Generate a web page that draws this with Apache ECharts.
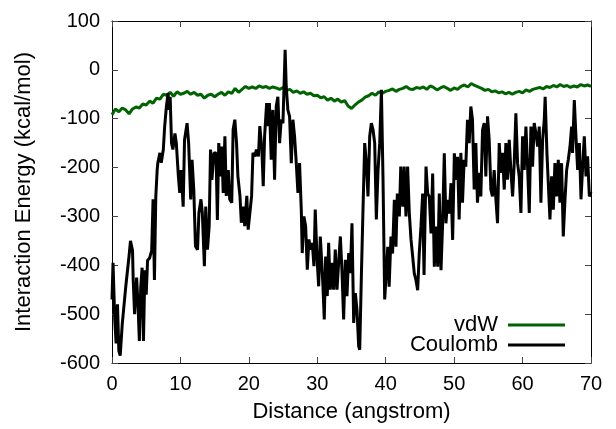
<!DOCTYPE html>
<html>
<head>
<meta charset="utf-8">
<script src="https://cdn.jsdelivr.net/npm/echarts@6/dist/echarts.min.js"></script>
<style>html,body{margin:0;padding:0;background:#fff}#c{width:616px;height:429px}</style>
</head>
<body>
<div id="c"></div>
<script>
const seriesNames = ['vdW', 'Coulomb'];
const xTickValues = [0, 10, 20, 30, 40, 50, 60, 70];
const yTickValues = [-600, -500, -400, -300, -200, -100, 0, 100];

const vdwX = [0,0.5,1,1.5,2,2.5,3,3.5,4,4.5,5,5.5,6,6.5,7,7.5,8,8.5,9,9.5,10,10.5,11,11.5,12,12.5,13,13.5,14,14.5,15,15.5,16,16.5,17,17.5,18,18.5,19,19.5,20,20.5,21,21.5,22,22.5,23,23.5,24,24.5,25,25.5,26,26.5,27,27.5,28,28.5,29,29.5,30,30.5,31,31.5,32,32.5,33,33.5,34,34.5,35,35.5,36,36.5,37,37.5,38,38.5,39,39.5,40,40.5,41,41.5,42,42.5,43,43.5,44,44.5,45,45.5,46,46.5,47,47.5,48,48.5,49,49.5,50,50.5,51,51.5,52,52.5,53,53.5,54,54.5,55,55.5,56,56.5,57,57.5,58,58.5,59,59.5,60,60.5,61,61.5,62,62.5,63,63.5,64,64.5,65,65.5,66,66.5,67,67.5,68,68.5,69,69.5,70];
const vdwY = [-92,-80,-86,-78,-82,-90,-80,-76,-78,-70,-72,-64,-68,-58,-60,-50,-52,-46,-54,-45,-50,-48,-44,-50,-46,-52,-50,-58,-52,-50,-55,-50,-46,-52,-45,-48,-38,-46,-40,-34,-38,-35,-38,-33,-36,-34,-38,-35,-37,-40,-36,-42,-40,-46,-43,-48,-45,-50,-48,-53,-52,-57,-55,-62,-58,-64,-60,-66,-63,-74,-79,-72,-66,-62,-56,-53,-48,-52,-45,-48,-44,-42,-39,-44,-40,-38,-34,-39,-40,-36,-38,-35,-40,-33,-36,-41,-37,-34,-38,-42,-37,-40,-34,-31,-35,-28,-32,-35,-38,-42,-40,-45,-43,-47,-45,-49,-46,-50,-46,-44,-47,-41,-44,-40,-38,-36,-39,-34,-36,-32,-35,-30,-34,-32,-36,-33,-35,-30,-33,-31,-34];

const coulombX = [0,0.15,0.4,0.6,0.8,1.0,1.2,1.5,2.0,2.5,2.7,3.0,3.1,3.3,3.6,3.8,4.0,4.2,4.4,4.6,4.8,5.0,5.2,5.5,5.8,6.0,6.2,6.4,6.6,6.7,7.0,7.2,7.5,7.7,7.95,8.2,8.3,8.5,8.7,8.9,9.2,9.4,9.7,9.9,10.1,10.4,10.6,10.97,11.2,11.5,11.7,11.95,12.2,12.5,12.7,13.0,13.2,13.5,13.7,13.95,14.2,14.4,14.6,14.9,15.2,15.4,15.6,15.9,16.05,16.25,16.5,16.7,17.0,17.2,17.5,17.7,17.95,18.2,18.4,18.7,18.9,19.2,19.4,19.7,19.9,20.2,20.4,20.6,20.9,21.1,21.4,21.6,21.9,22.1,22.3,22.6,22.8,
23.0,23.27,23.5,23.76,24.0,24.24,24.49,24.73,24.98,25.3,25.46,25.7,25.95,26.2,26.44,26.68,26.93,27.17,27.41,27.66,27.8,28.05,28.3,28.54,28.78,29.02,29.27,29.51,29.7,29.95,30.2,30.44,30.63,30.83,31.02,31.22,31.46,31.66,31.9,32.15,32.39,32.63,32.88,33.12,33.37,33.6,33.85,34.1,34.34,34.59,34.83,35.07,35.32,35.56,35.8,36.05,36.2,36.44,36.68,36.93,37.17,37.41,37.66,37.9,38.15,38.39,38.63,38.88,39.12,39.37,39.6,39.85,
40.3,40.5,40.77,41.0,41.26,41.5,41.7,41.99,42.2,42.5,42.7,42.96,43.2,43.45,43.7,43.9,44.18,44.42,44.67,44.9,45.15,45.4,45.6,45.89,46.13,46.37,46.62,46.86,47.1,47.35,47.6,47.83,48.08,48.32,48.56,48.8,49.05,49.3,49.54,49.78,50.03,50.27,50.5,
50.73,50.98,51.22,51.46,51.7,51.95,52.2,52.44,52.68,52.93,53.17,53.41,53.66,53.9,54.15,54.39,54.63,54.88,55.12,55.37,55.6,55.85,56.1,56.34,56.59,56.83,57.07,57.32,57.56,57.8,58.05,58.29,58.54,58.78,59.02,59.27,59.51,59.76,60.0,60.24,60.49,60.73,60.98,61.22,61.46,61.7,61.95,62.2,62.44,62.68,62.93,63.17,63.3,63.56,63.76,64.0,64.24,64.49,64.73,64.98,65.22,65.46,65.7,65.95,66.2,66.44,66.68,66.93,67.17,67.3,67.56,67.8,68.05,68.3,68.54,68.78,69.02,69.27,69.5,69.76,70];
const coulombY = [-470,-395,-510,-560,-480,-575,-585,-520,-445,-380,-350,-370,-430,-500,-425,-480,-555,-445,-405,-555,-410,-460,-390,-385,-370,-265,-430,-260,-205,-190,-170,-190,-163,-115,-75,-48,-82,-55,-150,-163,-130,-150,-218,-252,-205,-280,-143,-109,-150,-265,-184,-245,-361,-368,-293,-265,-293,-402,-280,-368,-320,-163,-225,-170,-170,-307,-150,-218,-157,-252,-136,-258,-205,-265,-272,-122,-102,-150,-218,-258,-313,-280,-320,-258,-327,-286,-258,-170,-177,-163,-177,-115,-163,-238,-136,-68,-115,
-68,-184,-82,-225,-75,-55,-150,-102,-109,41,-34,-82,-95,-191,-102,-136,-191,-252,-191,-286,-375,-300,-320,-409,-347,-368,-354,-402,-286,-382,-443,-341,-389,-443,-511,-382,-463,-354,-450,-395,-450,-368,-450,-395,-341,-409,-511,-389,-463,-375,-416,-314,-518,-457,-491,-566,-573,-423,-286,-150,-191,-259,-136,-109,-123,-150,-306,-205,-150,-41,-218,-470,
-362,-444,-341,-376,-266,-362,-253,-300,-198,-280,-198,-300,-198,-294,-348,-376,-417,-430,-451,-376,-321,-253,-420,-198,-253,-260,-335,-212,-403,-321,-403,-253,-410,-314,-171,-314,-266,-294,-232,-348,-171,-225,-178,
-306,-170,-272,-184,-198,-102,-150,-75,-102,-245,-150,-272,-211,-259,-123,-109,-218,-95,-143,-245,-259,-205,-265,-314,-150,-211,-170,-245,-150,-225,-143,-205,-259,-191,-89,-191,-218,-293,-136,-205,-116,-198,-293,-116,-198,-109,-130,-157,-116,-272,-143,-102,-55,-170,-232,-306,-218,-286,-191,-259,-184,-272,-191,-341,-265,-205,-184,-157,-116,-170,-62,-136,-205,-150,-265,-198,-136,-218,-177,-259,-250];

const FONT = 'Liberation Sans, Arial, Helvetica, sans-serif';
const chart = echarts.init(document.getElementById('c'), null, {renderer: 'canvas'});

function zip(xs, ys) { return xs.map((x, i) => [x, ys[i]]); }

const xMin = xTickValues[0], xMax = xTickValues[xTickValues.length - 1];
const yMin = yTickValues[0], yMax = yTickValues[yTickValues.length - 1];
const lineCol = '#000';
const tickStyle = {inside: true, length: 6, lineStyle: {color: '#444', width: 1}};
const axLine = {show: true, onZero: false, lineStyle: {color: lineCol, width: 1}};

chart.setOption({
  animation: false,
  backgroundColor: '#fff',
  grid: {left: 112, right: 25, top: 21, bottom: 66, containLabel: false},
  legend: {
    data: seriesNames,
    orient: 'vertical',
    right: 51,
    top: 314,
    padding: 0,
    align: 'right',
    icon: 'rect',
    itemWidth: 57,
    itemHeight: 3,
    itemGap: -2,
    textStyle: {fontSize: 22, color: '#000', fontFamily: FONT, padding: [0, 5, 0, 0]}
  },
  xAxis: [{
    type: 'value', min: xMin, max: xMax, interval: 10, position: 'bottom',
    name: 'Distance (angstrom)', nameLocation: 'middle', nameGap: 38,
    nameTextStyle: {fontSize: 22, color: '#000', fontFamily: FONT},
    axisLine: axLine, axisTick: tickStyle,
    axisLabel: {fontSize: 20, color: '#000', margin: 11, fontFamily: FONT},
    splitLine: {show: false}
  }, {
    type: 'value', min: xMin, max: xMax, interval: 10, position: 'top',
    axisLine: axLine, axisTick: tickStyle, axisLabel: {show: false}, splitLine: {show: false}
  }],
  yAxis: [{
    type: 'value', min: yMin, max: yMax, interval: 100, position: 'left',
    name: 'Interaction Energy (kcal/mol)', nameLocation: 'middle', nameGap: 77,
    nameTextStyle: {fontSize: 22, color: '#000', fontFamily: FONT},
    axisLine: axLine, axisTick: tickStyle,
    axisLabel: {fontSize: 20, color: '#000', margin: 12, fontFamily: FONT},
    splitLine: {show: false}
  }, {
    type: 'value', min: yMin, max: yMax, interval: 100, position: 'right',
    axisLine: axLine, axisTick: tickStyle, axisLabel: {show: false}, splitLine: {show: false}
  }],
  series: [{
    name: seriesNames[0], type: 'line', xAxisIndex: 0, yAxisIndex: 0,
    data: zip(vdwX, vdwY), showSymbol: false, symbol: 'none',
    color: '#006400',
    lineStyle: {color: '#006400', width: 3}
  }, {
    name: seriesNames[1], type: 'line', xAxisIndex: 0, yAxisIndex: 0,
    data: zip(coulombX, coulombY), showSymbol: false, symbol: 'none',
    color: '#000',
    lineStyle: {color: '#000', width: 3}
  }]
});
</script>
</body>
</html>
